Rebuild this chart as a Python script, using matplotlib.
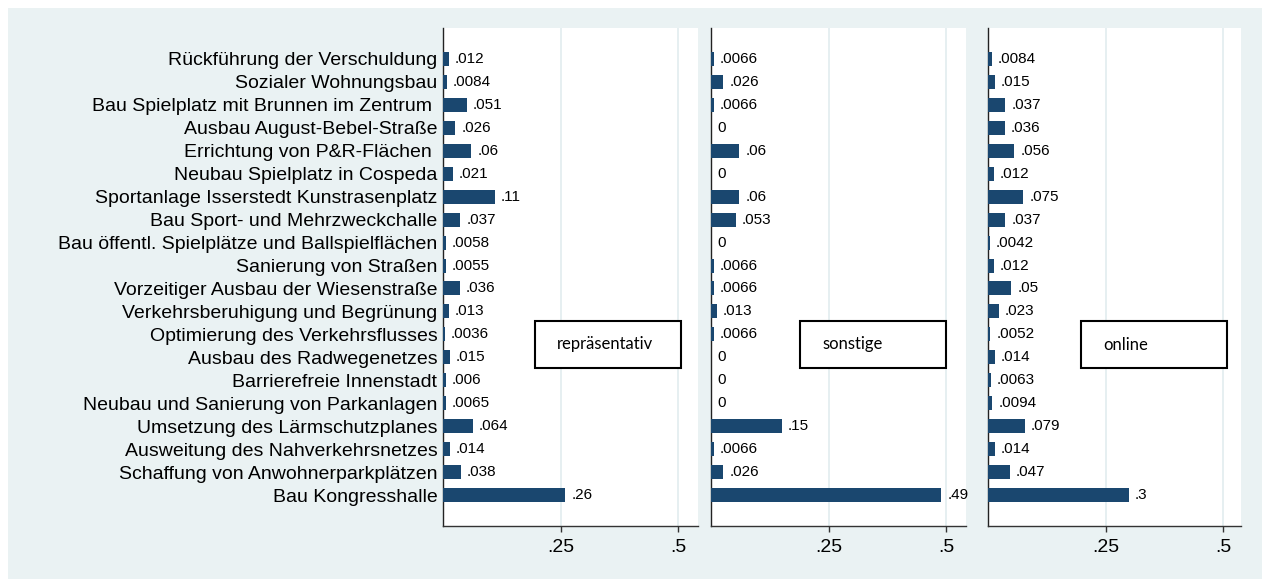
import matplotlib
matplotlib.use("Agg")
import matplotlib.pyplot as plt
from matplotlib.patches import Rectangle

# ---------- data (top to bottom, as drawn) ----------
CATEGORIES = [
    "Rückführung der Verschuldung",
    "Sozialer Wohnungsbau",
    "Bau Spielplatz mit Brunnen im Zentrum ",
    "Ausbau August-Bebel-Straße",
    "Errichtung von P&R-Flächen ",
    "Neubau Spielplatz in Cospeda",
    "Sportanlage Isserstedt Kunstrasenplatz",
    "Bau Sport- und Mehrzweckchalle",
    "Bau öffentl. Spielplätze und Ballspielflächen",
    "Sanierung von Straßen",
    "Vorzeitiger Ausbau der Wiesenstraße",
    "Verkehrsberuhigung und Begrünung",
    "Optimierung des Verkehrsflusses",
    "Ausbau des Radwegenetzes",
    "Barrierefreie Innenstadt",
    "Neubau und Sanierung von Parkanlagen",
    "Umsetzung des Lärmschutzplanes",
    "Ausweitung des Nahverkehrsnetzes",
    "Schaffung von Anwohnerparkplätzen",
    "Bau Kongresshalle",
]
REPRAES = [.012, .0084, .051, .026, .06, .021, .11, .037, .0058, .0055,
           .036, .013, .0036, .015, .006, .0065, .064, .014, .038, .26]
SONSTIGE = [.0066, .026, .0066, 0, .06, 0, .06, .053, 0, .0066,
            .0066, .013, .0066, 0, 0, 0, .15, .0066, .026, .49]
ONLINE = [.0084, .015, .037, .036, .056, .012, .075, .037, .0042, .012,
          .05, .023, .0052, .014, .0063, .0094, .079, .014, .047, .3]
PANEL_NAMES = ["repräsentativ", "sonstige", "online"]
XTICKS = [.25, .5]
XTICKLABELS = [".25", ".5"]

BG = "#eaf2f3"
BAR = "#1a476f"
GRID = "#e2ecef"

W, H = 1262, 579
fig = plt.figure(figsize=(W / 100, H / 100), dpi=100)
fig.patch.set_facecolor("white")
fig.patches.append(Rectangle((8 / W, 0), 1 - 8 / W, 1 - 8 / H, transform=fig.transFigure,
                             facecolor=BG, edgecolor="none", zorder=-10))


def px_axes(x0, x1, y0, y1):
    # pixel box (from top-left) -> figure axes
    return fig.add_axes([x0 / W, 1 - y1 / H, (x1 - x0) / W, (y1 - y0) / H])


def fmt(v):
    s = f"{v:.2g}"
    return s[1:] if s.startswith("0.") else s


panels = [(443, 698, REPRAES, 92), (711, 966, SONSTIGE, 89), (988, 1241, ONLINE, 93)]
n = len(CATEGORIES)
pos = list(range(n))

for i, (x0, x1, vals, boxoff) in enumerate(panels):
    ax = px_axes(x0, x1, 28, 526)
    ax.set_facecolor("white")
    xmax = (x1 - x0) / 470.0
    ax.barh(pos, vals, height=0.61, color=BAR, zorder=3)
    for p, v in zip(pos, vals):
        ax.annotate(fmt(v), (v, p), xytext=(4.3, 0), textcoords="offset points",
                    va="center", ha="left", fontsize=11, family="Liberation Sans",
                    color="black", zorder=4)
    ax.set_xlim(0, xmax)
    ax.set_ylim(n - 1 + 1.35, -1.35)
    for t in XTICKS:
        ax.axvline(t, color=GRID, lw=1.2, zorder=1)
    ax.set_xticks(XTICKS)
    ax.set_xticklabels(XTICKLABELS, family="Liberation Sans", fontsize=14)
    ax.tick_params(axis="x", length=4.5, width=1, color="#333333", pad=5)
    ax.set_yticks(pos)
    if i == 0:
        ax.set_yticklabels(CATEGORIES, family="Liberation Sans", fontsize=14)
    else:
        ax.set_yticklabels([])
    ax.tick_params(axis="y", length=0, pad=4)
    for s in ["top", "right"]:
        ax.spines[s].set_visible(False)
    ax.spines["left"].set_color("#222222")
    ax.spines["bottom"].set_color("#333333")
    ax.spines["left"].set_linewidth(1)
    ax.spines["bottom"].set_linewidth(1)

    # labelled box
    bw, bh = 146 / (x1 - x0), 47 / 498
    bx = boxoff / (x1 - x0)
    by = 1 - (321 - 28 + 47) / 498
    ax.add_patch(Rectangle((bx, by), bw, bh, transform=ax.transAxes, facecolor="white",
                           edgecolor="black", lw=1.5, zorder=5))
    ax.text(bx + 22 / (x1 - x0), by + bh / 2, PANEL_NAMES[i], transform=ax.transAxes,
            ha="left", va="center", fontsize=12, family="Lato", zorder=6)

fig.savefig("out.png", dpi=100)
